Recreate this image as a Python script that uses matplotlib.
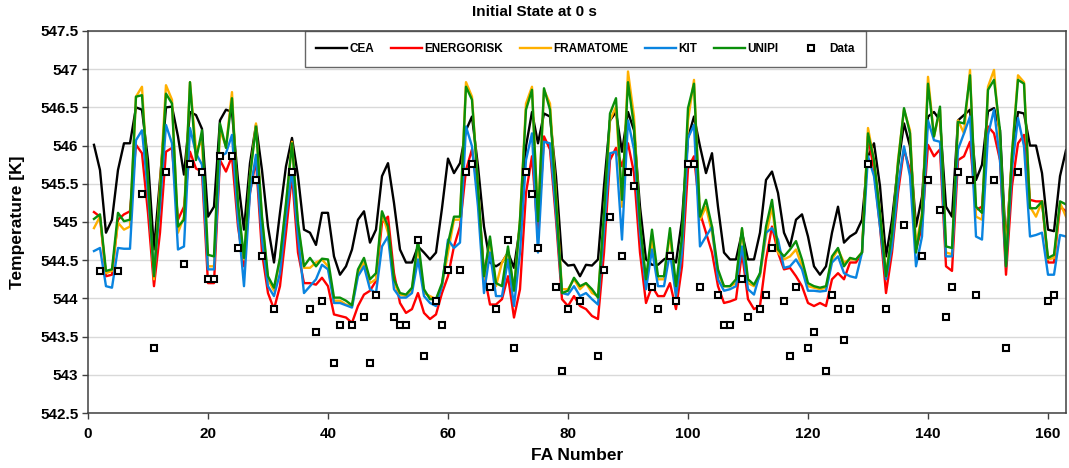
import numpy as np
import matplotlib
matplotlib.use("Agg")
import matplotlib.pyplot as plt

plt.rcParams['font.family'] = ['Liberation Sans', 'DejaVu Sans']
plt.rcParams['font.weight'] = 'bold'

# FA numbers 1..163
fa = np.arange(1, 164)

cea = [
    546.01, 545.68, 544.86, 545.03, 545.68, 546.03, 546.03, 546.50, 546.47, 545.81,
    544.64, 545.55, 546.50, 546.51, 546.12, 545.62, 546.44, 546.40, 546.22, 545.07,
    545.20, 546.33, 546.47, 546.44, 545.55, 544.90, 545.77, 546.27, 545.68, 544.94,
    544.47, 545.12, 545.73, 546.10, 545.60, 544.90, 544.86, 544.70, 545.12, 545.12,
    544.55, 544.31, 544.42, 544.64, 545.03, 545.14, 544.73, 544.90, 545.60, 545.77,
    545.25, 544.64, 544.47, 544.47, 544.68, 544.60, 544.51, 544.60, 545.18, 545.83,
    545.64, 545.77, 546.20, 546.38, 545.73, 544.94, 544.47, 544.42, 544.47, 544.60,
    544.40, 544.94, 545.99, 546.44, 546.03, 546.42, 546.38, 545.60, 544.51, 544.43,
    544.44, 544.29, 544.44, 544.43, 544.51, 545.47, 546.33, 546.44, 545.92, 546.44,
    546.20, 545.20, 544.51, 544.44, 544.44, 544.51, 544.55, 544.47, 545.03, 546.10,
    546.38, 545.99, 545.64, 545.90, 545.20, 544.60, 544.51, 544.51, 544.86, 544.51,
    544.51, 544.86, 545.55, 545.66, 545.38, 544.86, 544.68, 545.03, 545.10, 544.81,
    544.42, 544.31, 544.42, 544.86, 545.20, 544.73, 544.81, 544.86, 545.03, 545.86,
    546.03, 545.47, 544.55, 545.03, 545.73, 546.29, 545.99, 544.94, 545.33, 546.38,
    546.44, 546.33, 545.20, 545.07, 546.33, 546.40, 546.47, 545.55, 545.75, 546.45,
    546.49, 546.20, 544.68, 545.82, 546.44, 546.42, 546.00, 546.00, 545.64, 544.90,
    544.88, 545.60, 545.94,
]

energorisk = [
    545.13, 545.07, 544.29, 544.31, 545.03, 545.10, 545.14, 546.01, 545.90, 545.12,
    544.16, 544.86, 545.92, 545.97, 545.03, 545.20, 545.92, 545.70, 545.66, 544.20,
    544.20, 545.81, 545.66, 545.86, 544.94, 544.42, 545.38, 545.81, 544.60, 544.07,
    543.86, 544.16, 544.86, 545.62, 544.60, 544.20, 544.20, 544.18, 544.27, 544.16,
    543.79, 543.77, 543.75, 543.68, 543.90, 544.05, 544.10, 544.23, 544.99, 545.07,
    544.33, 543.94, 543.81, 543.86, 544.07, 543.81, 543.73, 543.79, 544.07, 544.29,
    544.68, 544.94, 545.68, 545.95, 545.38, 544.33, 543.92, 543.92, 543.99, 544.29,
    543.75, 544.12, 545.38, 545.86, 544.81, 546.12, 545.95, 545.03, 543.99, 543.90,
    544.03, 543.90, 543.86, 543.77, 543.73, 544.60, 545.81, 545.97, 545.73, 546.03,
    545.64, 544.60, 543.94, 544.16, 544.03, 544.03, 544.20, 543.86, 544.42, 545.70,
    545.86, 545.12, 544.86, 544.60, 544.16, 543.94, 543.96, 543.99, 544.60, 543.99,
    543.86, 543.90, 544.51, 544.94, 544.60, 544.38, 544.40, 544.29, 544.16, 543.94,
    543.90, 543.94, 543.90, 544.25, 544.33, 544.25, 544.47, 544.47, 544.60, 546.12,
    545.68, 544.94, 544.07, 544.60, 545.38, 545.95, 545.68, 544.64, 544.94, 546.01,
    545.86, 545.95, 544.42, 544.36, 545.81, 545.86, 546.05, 545.16, 545.20, 546.25,
    546.16, 545.81, 544.31, 545.47, 546.03, 546.14, 545.29, 545.27, 545.27, 544.47,
    544.47, 545.20, 545.14,
]

framatome = [
    544.92, 545.07, 544.33, 544.36, 544.99, 544.90, 544.94, 546.64, 546.77, 545.47,
    544.25, 545.47, 546.79, 546.60, 544.86, 545.07, 546.83, 545.95, 546.05, 544.42,
    544.42, 546.20, 545.99, 546.70, 545.20, 544.51, 545.60, 546.29, 545.03, 544.25,
    544.10, 544.51, 545.20, 546.05, 544.94, 544.40, 544.40, 544.47, 544.51, 544.42,
    543.97, 543.97, 543.92, 543.90, 544.33, 544.47, 544.20, 544.25, 545.12, 544.86,
    544.20, 544.05, 544.03, 544.12, 544.68, 544.07, 544.03, 543.99, 544.16, 544.60,
    545.03, 545.03, 546.83, 546.64, 545.47, 544.25, 544.77, 544.16, 544.47, 544.60,
    544.12, 545.03, 546.55, 546.77, 545.03, 546.73, 546.55, 545.33, 544.12, 544.12,
    544.25, 544.12, 544.20, 544.07, 544.03, 545.03, 546.33, 546.51, 545.20, 546.97,
    546.38, 544.94, 544.20, 544.77, 544.25, 544.25, 544.86, 544.03, 544.68, 546.33,
    546.86, 545.03, 545.20, 544.86, 544.33, 544.16, 544.16, 544.20, 544.90, 544.20,
    544.16, 544.29, 544.81, 545.20, 544.60, 544.51, 544.55, 544.64, 544.42, 544.16,
    544.14, 544.12, 544.14, 544.51, 544.64, 544.47, 544.51, 544.51, 544.60, 546.23,
    545.81, 545.12, 544.33, 544.81, 545.81, 546.47, 546.20, 544.68, 545.12, 546.90,
    546.12, 546.47, 544.60, 544.58, 546.33, 546.16, 546.99, 545.07, 545.03, 546.77,
    546.99, 546.03, 544.60, 545.90, 546.92, 546.83, 545.20, 545.07, 545.27, 544.51,
    544.53, 545.25, 545.07,
]

kit = [
    544.62, 544.66, 544.16, 544.14, 544.66, 544.65, 544.65, 546.07, 546.20, 545.38,
    544.33, 545.20, 546.27, 546.03, 544.64, 544.68, 546.23, 545.90, 545.75, 544.38,
    544.38, 545.86, 545.90, 546.14, 545.03, 544.16, 545.38, 545.88, 544.77, 544.16,
    544.03, 544.33, 545.07, 545.68, 544.81, 544.07, 544.16, 544.25, 544.44, 544.38,
    543.94, 543.94, 543.91, 543.88, 544.29, 544.42, 544.12, 544.07, 544.68, 544.81,
    544.12, 544.01, 544.01, 544.07, 544.51, 544.03, 543.94, 543.90, 544.16, 544.77,
    544.66, 544.73, 546.25, 545.99, 545.20, 544.07, 544.60, 544.03, 544.03, 544.51,
    543.90, 544.60, 545.81, 546.16, 544.60, 546.05, 546.03, 545.12, 544.07, 544.05,
    544.16, 544.03, 544.07, 543.99, 543.92, 544.90, 545.90, 545.92, 544.77, 546.33,
    545.95, 544.86, 544.12, 544.64, 544.16, 544.16, 544.60, 544.03, 544.60, 546.10,
    546.27, 544.68, 544.81, 544.94, 544.25, 544.10, 544.12, 544.16, 544.68, 544.12,
    544.05, 544.33, 544.86, 544.92, 544.77, 544.40, 544.42, 544.51, 544.38, 544.10,
    544.10, 544.09, 544.10, 544.47, 544.55, 544.33, 544.29, 544.27, 544.60, 545.86,
    545.60, 544.94, 544.25, 544.68, 545.47, 545.99, 545.60, 544.42, 544.81, 546.33,
    546.07, 546.05, 544.55, 544.55, 545.95, 546.16, 546.38, 544.81, 544.77, 546.14,
    546.47, 545.81, 544.42, 545.70, 546.36, 545.99, 544.81, 544.83, 544.86, 544.31,
    544.31, 544.83, 544.81,
]

unipi = [
    545.04, 545.10, 544.36, 544.38, 545.12, 545.01, 545.03, 546.64, 546.66, 545.55,
    544.29, 545.38, 546.68, 546.55, 544.94, 545.03, 546.83, 545.81, 546.20, 544.57,
    544.55, 546.29, 545.97, 546.62, 545.25, 544.53, 545.60, 546.25, 545.07, 544.29,
    544.14, 544.53, 545.25, 546.03, 544.99, 544.42, 544.53, 544.42, 544.52, 544.51,
    544.01, 544.01, 543.97, 543.91, 544.38, 544.53, 544.25, 544.33, 545.14, 544.94,
    544.25, 544.07, 544.05, 544.14, 544.77, 544.12, 543.99, 543.99, 544.20, 544.72,
    545.07, 545.07, 546.77, 546.60, 545.47, 544.29, 544.81, 544.20, 544.16, 544.68,
    544.10, 545.03, 546.47, 546.73, 545.01, 546.75, 546.47, 545.29, 544.07, 544.10,
    544.27, 544.16, 544.20, 544.12, 544.01, 545.12, 546.42, 546.62, 545.29, 546.83,
    546.25, 544.99, 544.25, 544.90, 544.29, 544.29, 544.92, 544.16, 544.81, 546.49,
    546.81, 545.07, 545.29, 544.94, 544.38, 544.16, 544.16, 544.25, 544.92, 544.25,
    544.18, 544.33, 544.94, 545.29, 544.64, 544.55, 544.64, 544.75, 544.51, 544.20,
    544.16, 544.14, 544.16, 544.55, 544.66, 544.42, 544.53, 544.51, 544.60, 546.16,
    545.81, 545.12, 544.29, 544.86, 545.77, 546.49, 546.16, 544.60, 545.08, 546.81,
    546.12, 546.51, 544.68, 544.66, 546.31, 546.29, 546.92, 545.20, 545.12, 546.73,
    546.86, 546.20, 544.42, 545.90, 546.86, 546.81, 545.18, 545.18, 545.27, 544.53,
    544.57, 545.27, 545.23,
]

# measured data (FA number, temperature)
data_fa = [
    2, 5, 9, 11, 13, 16, 17, 19, 20, 21, 22, 24, 25, 28, 29, 31, 34, 37, 38, 39,
    41, 42, 44, 46, 47, 48, 51, 52, 53, 55, 56, 58, 59, 60, 62, 63, 64, 67, 68, 70,
    71, 73, 74, 75, 78, 79, 80, 82, 85, 86, 87, 89, 90, 91, 94, 95, 97, 98, 100, 101,
    102, 105, 106, 107, 109, 110, 112, 113, 114, 116, 117, 118, 120, 121, 123, 124, 125, 126, 127, 130,
    133, 136, 139, 140, 142, 143, 144, 145, 147, 148, 151, 153, 155, 160, 161,
]
data_t = [
    544.36, 544.36, 545.36, 543.35, 545.65, 544.45, 545.76, 545.65, 544.26, 544.26,
    545.87, 545.87, 544.66, 545.55, 544.55, 543.86, 545.65, 543.86, 543.56, 543.96,
    543.16, 543.65, 543.65, 543.76, 543.16, 544.05, 543.76, 543.65, 543.65, 544.76,
    543.25, 543.96, 543.65, 544.37, 544.37, 545.65, 545.76, 544.15, 543.86, 544.76,
    543.35, 545.65, 545.36, 544.66, 544.15, 543.05, 543.86, 543.96, 543.25, 544.37,
    545.06, 544.55, 545.65, 545.47, 544.15, 543.86, 544.55, 543.96, 545.76, 545.76,
    544.15, 544.05, 543.65, 543.65, 544.26, 543.76, 543.86, 544.05, 544.66, 543.96,
    543.25, 544.15, 543.35, 543.56, 543.05, 544.05, 543.86, 543.46, 543.86, 545.76,
    543.86, 544.96, 544.55, 545.55, 545.16, 543.76, 544.15, 545.65, 545.55, 544.05,
    545.55, 543.35, 545.65, 543.96, 544.05,
]

series = [
    ("CEA", cea, "#000000"),
    ("ENERGORISK", energorisk, "#FF0000"),
    ("FRAMATOME", framatome, "#FFB000"),
    ("KIT", kit, "#0A84E0"),
    ("UNIPI", unipi, "#0A8F0A"),
]

fig = plt.figure(figsize=(10.69, 4.68), dpi=100)
ax = fig.add_axes([0.0823, 0.1175, 0.9149, 0.8163])

for name, vals, col in series:
    ax.plot(fa, vals, color=col, lw=1.7, label=name)
ax.plot(data_fa, data_t, ls="none", marker="s", ms=5, mfc="white",
        mec="black", mew=1.5, label="Data")

ax.set_xlim(0, 163)
ax.set_ylim(542.5, 547.5)
ax.set_xticks(np.arange(0, 161, 20))
ax.set_yticks(np.arange(542.5, 547.51, 0.5))
ax.set_yticklabels(["542.5", "543", "543.5", "544", "544.5", "545",
                    "545.5", "546", "546.5", "547", "547.5"])
ax.yaxis.grid(True, color="#D9D9D9", lw=1)
ax.set_axisbelow(True)
for sp in ax.spines.values():
    sp.set_color("#404040")
    sp.set_linewidth(1.1)
ax.tick_params(axis="both", direction="out", length=4, width=1, color="#404040",
               labelsize=11, pad=3)
ax.tick_params(axis="x", pad=6)

fig.text(0.5, 1 - 12 / 468, "Initial State at 0 s", ha="center", va="center",
         fontsize=11, fontweight="bold")
fig.text(0.5397, 1 - 456 / 468, "FA Number", ha="center", va="center",
         fontsize=12.5, fontweight="bold")
fig.text(18 / 1069, 0.5256, "Temperature [K]", ha="center", va="center",
         rotation=90, fontsize=12.5, fontweight="bold")

leg = ax.legend(loc="center", bbox_to_anchor=(0.5085, 0.953), ncol=6,
                fontsize=8.5, frameon=True, fancybox=False, edgecolor="#404040",
                handlelength=2.6, handletextpad=0.2, columnspacing=1.45,
                borderpad=1.0, borderaxespad=0)
leg.get_frame().set_linewidth(1.0)
for t in leg.get_texts():
    t.set_fontweight("bold")

fig.savefig("out.png", dpi=100)
